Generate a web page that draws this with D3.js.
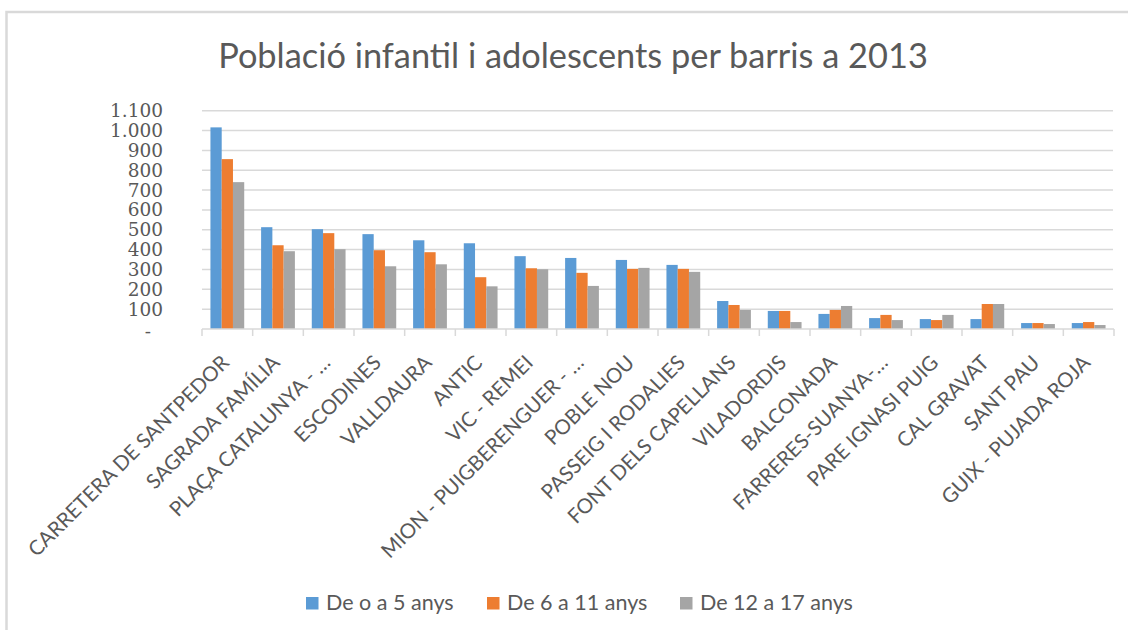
<!DOCTYPE html>
<html>
<head>
<meta charset="utf-8">
<script src="https://cdn.jsdelivr.net/npm/d3@7"></script>
<style>
  html, body { margin: 0; padding: 0; background: #fff; }
  svg { display: block; }
</style>
</head>
<body>
<svg id="chart" width="1128" height="630"></svg>
<script>
const title = "Població infantil i adolescents per barris a 2013";
const categories = [
  "CARRETERA DE SANTPEDOR", "SAGRADA FAMÍLIA", "PLAÇA CATALUNYA - …", "ESCODINES",
  "VALLDAURA", "ANTIC", "VIC - REMEI", "MION - PUIGBERENGUER - …", "POBLE NOU",
  "PASSEIG I RODALIES", "FONT DELS CAPELLANS", "VILADORDIS", "BALCONADA",
  "FARRERES-SUANYA-…", "PARE IGNASI PUIG", "CAL GRAVAT", "SANT PAU", "GUIX - PUJADA ROJA"
];
const seriesNames = ["De o a 5 anys", "De 6 a 11 anys", "De 12 a 17 anys"];
const age0to5   = [1016, 513, 503, 478, 447, 432, 367, 358, 348, 323, 141, 91, 76, 55, 50, 50, 30, 30];
const age6to11  = [856, 422, 483, 397, 387, 261, 306, 283, 303, 303, 121, 91, 96, 71, 45, 126, 30, 35];
const age12to17 = [740, 392, 402, 316, 326, 215, 301, 217, 308, 288, 96, 35, 116, 45, 71, 126, 25, 20];
const yTicks = [0, 100, 200, 300, 400, 500, 600, 700, 800, 900, 1000, 1100];
const colors = ["#5B9BD5", "#ED7D31", "#A5A5A5"];

(function () {
const seriesValues = [age0to5, age6to11, age12to17];
const rows = categories.map((c, i) => ({ cat: c, vals: seriesValues.map((s, k) => ({ key: seriesNames[k], k, v: s[i] })) }));

const svg = d3.select("#chart");
const textColor = "#595959";
const gridColor = "#d9d9d9";

// chart border (only top and left visible)
svg.append("path")
  .attr("d", "M6.5,630 L6.5,12 L1128,12")
  .attr("fill", "none").attr("stroke", gridColor).attr("stroke-width", 2.5);

const plotLeft = 202, plotRight = 1114, plotTop = 110.7, plotBottom = 329;

const x0 = d3.scaleBand().domain(categories).range([plotLeft, plotRight]).padding(0);
const x1 = d3.scaleBand().domain(seriesNames).range([0, x0.bandwidth()]).paddingInner(0).paddingOuter(0.75);
const y = d3.scaleLinear().domain([0, 1100]).range([plotBottom, plotTop]);

function fitFont(sel, target, base) {
  sel.style("font-size", base + "px");
  const w = sel.node().getComputedTextLength();
  const s = base * target / w;
  sel.style("font-size", s + "px");
  return s;
}

// gridlines
svg.append("g").selectAll("line")
  .data(yTicks.filter(d => d > 0))
  .join("line")
  .attr("x1", plotLeft).attr("x2", plotRight - 1)
  .attr("y1", d => y(d)).attr("y2", d => y(d))
  .attr("stroke", gridColor).attr("stroke-width", 1.5);

// bars
const groups = svg.append("g").selectAll("g")
  .data(rows).join("g")
  .attr("transform", d => `translate(${x0(d.cat)},0)`);
groups.selectAll("rect")
  .data(d => d.vals).join("rect")
  .attr("x", d => x1(d.key))
  .attr("width", x1.bandwidth())
  .attr("y", d => y(d.v))
  .attr("height", d => y(0) - y(d.v))
  .attr("fill", d => colors[d.k]);

// baseline
svg.append("line")
  .attr("x1", plotLeft).attr("x2", plotRight)
  .attr("y1", y(0)).attr("y2", y(0))
  .attr("stroke", gridColor).attr("stroke-width", 1.5);

// category boundary ticks
const boundaries = categories.map(c => x0(c)).concat([x0(categories[categories.length - 1]) + x0.bandwidth()]);
svg.append("g").selectAll("line")
  .data(boundaries).join("line")
  .attr("x1", d => d).attr("x2", d => d)
  .attr("y1", y(0)).attr("y2", y(0) + 7)
  .attr("stroke", gridColor).attr("stroke-width", 1.5);

// x axis labels
const xAxis = svg.append("g")
  .attr("transform", `translate(0,${y(0)})`)
  .call(d3.axisBottom(x0).tickSize(0).tickPadding(0));
xAxis.select(".domain").remove();
const xl = xAxis.selectAll("text")
  .attr("fill", textColor)
  .style("font-family", "Lato, 'Open Sans', sans-serif")
  .attr("text-anchor", "end")
  .attr("x", 0).attr("y", 0).attr("dy", 0)
  .attr("transform", "translate(3,35) rotate(-45)");
const refLabel = xl.filter(d => d === categories[0]);
const labelSize = fitFont(refLabel, 274, 18);
xl.style("font-size", labelSize + "px");

// y axis
const yAxis = svg.append("g")
  .attr("transform", `translate(163,0)`)
  .call(d3.axisLeft(y).tickValues(yTicks).tickSize(0).tickPadding(0)
    .tickFormat(d => d === 0 ? "-" : d3.format(",")(d).replace(/,/g, ".")));
yAxis.select(".domain").remove();
const yl = yAxis.selectAll("text")
  .attr("fill", textColor)
  .style("font-family", "'DejaVu Serif', serif");
const ySize = fitFont(yl.filter(d => d === 1100), 53, 18);
yl.style("font-size", ySize + "px");
yl.filter(d => d === 0).attr("dx", -12).attr("dy", "0.45em");

// title
const t = svg.append("text")
  .attr("x", 573).attr("y", 68)
  .attr("text-anchor", "middle")
  .attr("fill", textColor)
  .style("font-family", "Lato, 'Open Sans', sans-serif")
  .style("font-weight", 400)
  .text(title);
fitFont(t, 710, 28);

// legend
const legendX = [306, 487, 680];
const lg = svg.append("g").selectAll("g")
  .data(seriesNames).join("g")
  .attr("transform", (d, i) => `translate(${legendX[i]},597)`);
lg.append("rect").attr("width", 12.5).attr("height", 12.5)
  .attr("fill", (d, i) => colors[i]);
const lt = lg.append("text")
  .attr("x", 20).attr("y", 12.5)
  .attr("fill", textColor)
  .style("font-family", "Lato, 'Open Sans', sans-serif")
  .text(d => d);
const legSize = fitFont(lt.filter((d, i) => i === 2), 153, 18);
lt.style("font-size", legSize + "px");
})();
</script>
</body>
</html>
